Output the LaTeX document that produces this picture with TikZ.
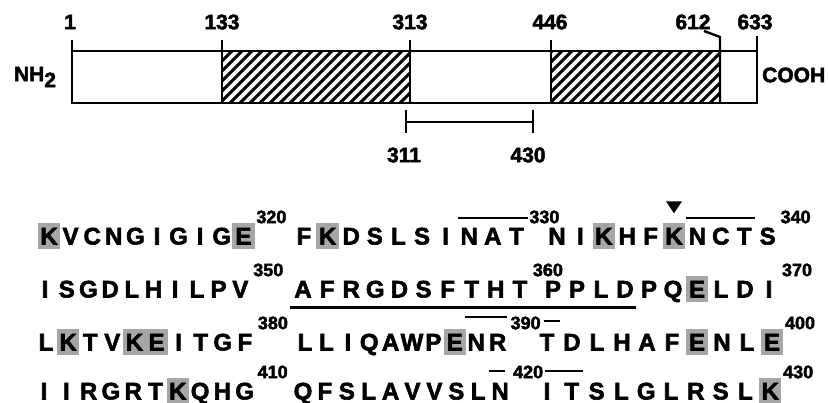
\documentclass[tikz,border=0pt]{standalone}
\usepackage{fontspec}
\setmainfont{Liberation Sans}
\newfontfamily\heavy[FakeBold=2.4]{Liberation Sans}
\usetikzlibrary{calc,backgrounds}
\tikzset{
  res/.style={font=\fontsize{24}{24}\selectfont\heavy\bfseries,inner xsep=0pt,inner ysep=3pt,minimum width=20pt,text height=17pt,text depth=0pt},
  num/.style={font=\fontsize{18}{18}\selectfont\heavy\bfseries,inner sep=0pt},
  poslabel/.style={font=\fontsize{21}{21}\selectfont\heavy\bfseries,inner sep=0pt},
  hit/.style={fill=black!35},
  hatch/.style={line width=3pt},
  glyc/.style={line width=1.8pt}
}

\begin{document}
\begin{tikzpicture}[x=1pt,y=-1pt,line width=2.4pt]
\useasboundingbox (0,0) rectangle (828,403);
% hatched domains 133-313 and 446-612
\foreach \xa/\xb in {222/410,551/720} {\begin{scope}\clip (\xa,51) rectangle (\xb,103); \foreach \h in {150,160,...,720} \draw[hatch] (\h,103) -- ++(53,-53);\end{scope}}
% the chain, with its boundaries
\draw (72,51) rectangle (757,103);
\foreach \x in {72,222,410,551} \draw (\x,40) -- (\x,103);
\draw (757,36) -- (757,103);
\draw (704,31) -- (720,37) -- (720,103);
\node[poslabel] (p1) at (70,22) {1};
\node[poslabel] (p133) at (222,22) {133};
\node[poslabel] (p313) at (410,22) {313};
\node[poslabel] (p446) at (550,22) {446};
\node[poslabel] (p612) at (693,22) {612};
\node[poslabel] (p633) at (755,22) {633};
\node[poslabel] (nterm) at (35,77) {NH\raisebox{-6pt}{2}};
\node[poslabel,anchor=west] (cterm) at (761,75) {COOH};
% fragment 311-430
\draw (406,110) -- (406,133);
\draw (533,110) -- (533,133);
\draw (406,122) -- (533,122);
\node[poslabel] (f311) at (404,155) {311};
\node[poslabel] (f430) at (528,155) {430};
% sequence 311-430, three groups of ten per row
\foreach \first/\yy/\sa/\sb/\sc/\pa/\pb/\pc/\seq in {
  311/236/49/304/557/21.6/23.6/23.4/{K,V,C,N,G,I,G,I,G,E,F,K,D,S,L,S,I,N,A,T,N,I,K,H,F,K,N,C,T,S},
  341/289/45/303/553/21.7/24.1/24/{I,S,G,D,L,H,I,L,P,V,A,F,R,G,D,S,F,T,H,T,P,P,L,D,P,Q,E,L,D,I},
  371/342/46/305/547/22.1/21.4/25/{L,K,T,V,K,E,I,T,G,F,L,L,I,Q,A,W,P,E,N,R,T,D,L,H,A,F,E,N,L,E},
  401/391/44/303/547/22.3/21.9/24.8/{I,I,R,G,R,T,K,Q,H,G,Q,F,S,L,A,V,V,S,L,N,I,T,S,L,G,L,R,S,L,K}}
{\foreach \aa [count=\i from 0] in \seq {
  \pgfmathtruncatemacro\g{\i/10}
  \pgfmathtruncatemacro\n{\first+\i}
  \pgfmathsetmacro\xx{{\sa,\sb,\sc}[\g]+mod(\i,10)*{\pa,\pb,\pc}[\g]}
  \node[res] (r\n) at (\xx,\yy) {\aa};
  \ifnum\numexpr\i-10*\g\relax=9 \node[num] (n\n) at (\xx+28,\yy-19) {\n};\fi}}
% shaded residues
\begin{scope}[on background layer]
\foreach \n in {311,320,322,333,336,367,372,375,376,388,397,400,407,430} \fill[hit] (r\n.south west) rectangle (r\n.north east);
\end{scope}
% glycosylation sites
\draw[glyc] ($(r328.north west)+(0,-5)$) -- ($(r330.north east)+(0,-5)$);
\draw[glyc] ($(r337.north west)+(0,-5)$) -- ($(r339.north east)+(0,-5)$);
\draw[glyc] ($(r389.north west)+(0,-12)$) -- ($(r390.north east)+(-2,-12)$);
\draw[glyc] ($(r391.north west)+(8,-8)$) -- ($(r391.north east)+(2,-8)$);
\draw[glyc] ($(r420.north west)+(0,-7)$) -- ($(r420.north east)+(-6,-7)$);
\draw[glyc] ($(r421.north west)+(9,-7)$) -- ($(r422.north east)+(0,-7)$);
% marked lysine and underlined stretch
\fill ($(r336.north)+(0,-10)$) -- ++(-8,-12) -- ++(16,0) -- cycle;
\draw[line width=2.8pt] ($(r351.south west)+(-2,6)$) -- ($(r364.south east)+(0,6)$);
\end{tikzpicture}
\end{document}
